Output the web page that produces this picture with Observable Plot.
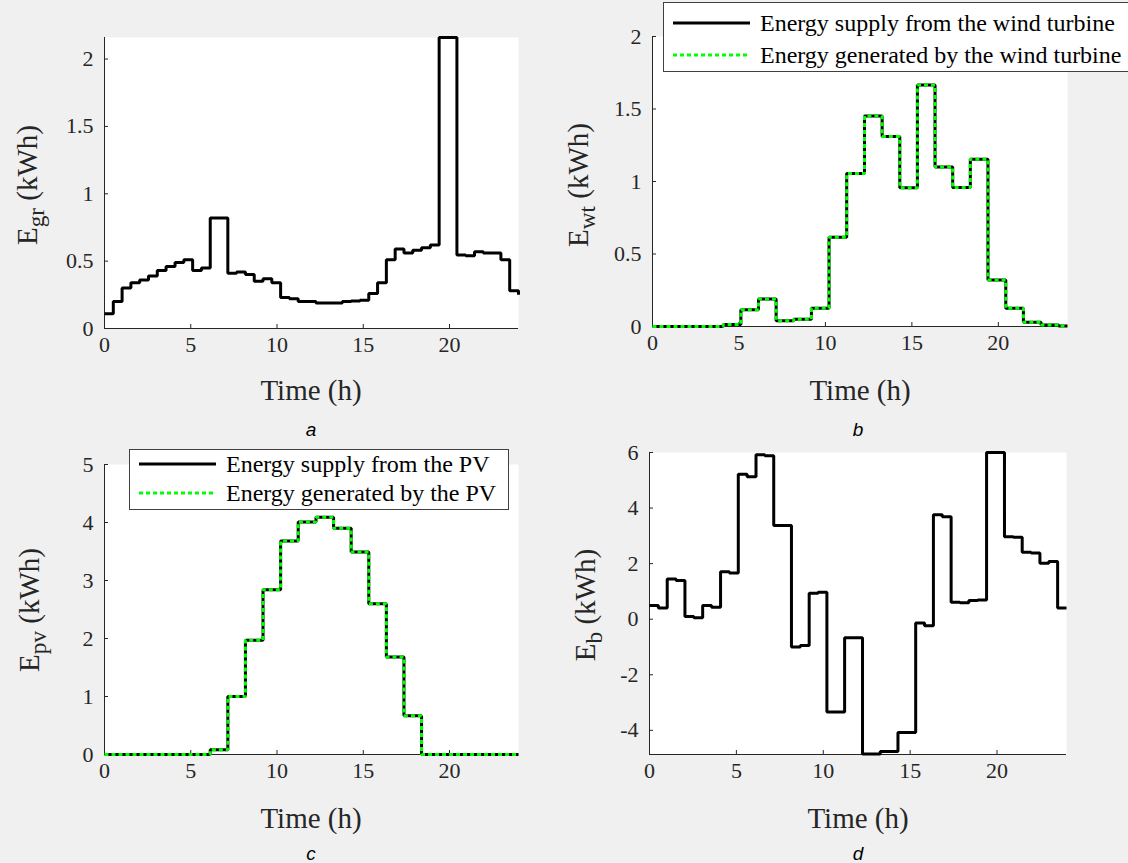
<!DOCTYPE html>
<html><head><meta charset="utf-8">
<script src="https://cdn.jsdelivr.net/npm/d3@7"></script>
<script src="https://cdn.jsdelivr.net/npm/@observablehq/plot@0.6"></script>
<style>
html,body{margin:0;padding:0;background:#f0f0f0;}
#fig{position:relative;width:1128px;height:863px;overflow:hidden;background:#f0f0f0;font-family:"Liberation Serif","Times New Roman",serif;color:#262626;}
#fig svg text{font-family:"Liberation Serif","Times New Roman",serif !important;}
.xlab{position:absolute;font-size:29px;transform:translate(-50%,-50%);white-space:nowrap;line-height:1;}
.ylab{position:absolute;font-size:29px;transform:translate(-50%,-50%) rotate(-90deg);white-space:nowrap;line-height:1;}
.ylab sub{font-size:0.8em;vertical-align:-0.32em;line-height:0;}
.letter{position:absolute;font-family:"Liberation Sans",Arial,sans-serif;font-style:italic;font-size:19px;transform:translate(-50%,-50%);color:#000;line-height:1;}
.legend{position:absolute;background:#fff;border:1px solid #404040;box-sizing:border-box;}
.legend svg{position:absolute;left:0;top:0;}
</style></head><body><div id="fig"></div>
<script>
// ---- data (48 half-hour samples over 0..24 h) ----
const hours = [0, 0.51, 1.02, 1.53, 2.04, 2.55, 3.06, 3.57, 4.09, 4.6, 5.11, 5.62, 6.13, 6.64, 7.15, 7.66,
  8.17, 8.68, 9.19, 9.7, 10.21, 10.72, 11.23, 11.74, 12.26, 12.77, 13.28, 13.79, 14.3, 14.81, 15.32, 15.83,
  16.34, 16.85, 17.36, 17.87, 18.38, 18.89, 19.4, 19.91, 20.43, 20.94, 21.45, 21.96, 22.47, 22.98, 23.49, 24];
const xTicks = [0, 5, 10, 15, 20];

// a: energy from grid (kWh), half-hourly
const gridEnergy = [0.11, 0.2, 0.3, 0.34, 0.36, 0.39, 0.43, 0.46, 0.49, 0.51, 0.43, 0.45, 0.82, 0.82, 0.41, 0.42,
  0.4, 0.35, 0.37, 0.34, 0.23, 0.22, 0.2, 0.2, 0.19, 0.19, 0.19, 0.2, 0.205, 0.21, 0.26, 0.34,
  0.51, 0.59, 0.56, 0.58, 0.6, 0.62, 2.16, 2.16, 0.545, 0.54, 0.57, 0.56, 0.56, 0.51, 0.28, 0.25];
const yTicksA = [0, 0.5, 1, 1.5, 2];

// b: wind turbine (kWh), hourly
const windSupply = [0, 0, 0, 0, 0.013, 0.115, 0.19, 0.04, 0.05, 0.126, 0.615, 1.055, 1.452, 1.31, 0.957, 1.665,
  1.1, 0.959, 1.154, 0.321, 0.126, 0.03, 0.01, 0.003];
const windGenerated = [0, 0, 0, 0, 0.013, 0.115, 0.19, 0.04, 0.05, 0.126, 0.615, 1.055, 1.452, 1.31, 0.957, 1.665,
  1.1, 0.959, 1.154, 0.321, 0.126, 0.03, 0.01, 0.003];
const yTicksB = [0, 0.5, 1, 1.5, 2];
const legendWind = ["Energy supply from the wind turbine", "Energy generated by the wind turbine"];

// c: PV (kWh), hourly
const pvSupply = [0, 0, 0, 0, 0, 0, 0.08, 1.0, 1.97, 2.84, 3.68, 4.01, 4.09, 3.9, 3.49, 2.6,
  1.68, 0.67, 0, 0, 0, 0, 0, 0];
const pvGenerated = [0, 0, 0, 0, 0, 0, 0.08, 1.0, 1.97, 2.84, 3.68, 4.01, 4.09, 3.9, 3.49, 2.6,
  1.68, 0.67, 0, 0, 0, 0, 0, 0];
const yTicksC = [0, 1, 2, 3, 4, 5];
const legendPV = ["Energy supply from the PV", "Energy generated by the PV"];

// d: battery (kWh), half-hourly
const batteryEnergy = [0.49, 0.4, 1.45, 1.39, 0.1, 0.05, 0.49, 0.43, 1.71, 1.66, 5.22, 5.13, 5.92, 5.88, 3.37, 3.37,
  -1.0, -0.95, 0.93, 0.97, -3.34, -3.34, -0.67, -0.67, -4.85, -4.85, -4.76, -4.76, -4.08, -4.08, -0.14, -0.24,
  3.76, 3.69, 0.61, 0.59, 0.67, 0.69, 6.0, 6.0, 2.97, 2.95, 2.41, 2.38, 2.01, 2.08, 0.4, 0.4];
const yTicksD = [-4, -2, 0, 2, 4, 6];

const xLabel = "Time (h)";
const panelLetters = ["a", "b", "c", "d"];

// ---- helpers ----
const fig = document.getElementById("fig");
const halfHourly = v => hours.map((t, i) => ({t, v: v[i]}));
const fromHourly = v => hours.map((t, i) => ({t, v: v[Math.floor(i / 2)]}));
const AX = "#262626";

function panel({box, yDomain, yTicks, black, green}) {
  const [l, r, t, b] = box;
  const mL = 70, mR = 12, mT = 12, mB = 45;
  const w = r - l, h = b - t;
  const lineOpts = {x: "t", y: "v", curve: "step-after", strokeWidth: 3, strokeLinejoin: "miter", strokeLinecap: "butt"};
  const marks = [
    Plot.frame({fill: "white", stroke: "none"}),
    Plot.ruleX([0], {stroke: AX, strokeWidth: 1}),
    Plot.ruleY([yDomain[0]], {stroke: AX, strokeWidth: 1}),
    Plot.tickX(xTicks, {x: d => d, stroke: AX, insetTop: h - 4}),
    Plot.tickY(yTicks, {y: d => d, stroke: AX, insetRight: w - 4}),
    Plot.axisX(xTicks, {tickSize: 0, tickPadding: 8, tickFormat: d => String(d), label: null, fontSize: 22}),
    Plot.axisY(yTicks, {tickSize: 0, tickPadding: 11, tickFormat: d => String(d), label: null, fontSize: 22}),
    Plot.line(black, {...lineOpts, stroke: "black"})
  ];
  if (green) marks.push(Plot.line(green, {...lineOpts, stroke: "#00ff00", strokeDasharray: "4,3"}));
  const svg = Plot.plot({
    width: w + mL + mR, height: h + mT + mB,
    marginLeft: mL, marginRight: mR, marginTop: mT, marginBottom: mB,
    x: {domain: [0, 24], label: null},
    y: {domain: yDomain, label: null},
    style: {background: "transparent", fontSize: "22px", color: AX, overflow: "visible"},
    marks
  });
  svg.style.position = "absolute";
  svg.style.left = (l - mL) + "px";
  svg.style.top = (t - mT) + "px";
  svg.style.maxWidth = "none";
  svg.style.fontFamily = "'Liberation Serif','Times New Roman',serif";
  fig.appendChild(svg);
}

function addDiv(cls, html, x, y) {
  const d = document.createElement("div");
  d.className = cls; d.innerHTML = html;
  d.style.left = x + "px"; d.style.top = y + "px";
  fig.appendChild(d);
}

function legend(items, left, top, width, height, rows) {
  const d = document.createElement("div");
  d.className = "legend";
  Object.assign(d.style, {left: left + "px", top: top + "px", width: width + "px", height: height + "px"});
  const svg = d3.create("svg").attr("width", width).attr("height", height);
  items.forEach((txt, i) => {
    const y = rows[i];
    const ln = svg.append("line").attr("x1", 9).attr("x2", 86).attr("y1", y).attr("y2", y).attr("stroke-width", 3);
    if (i === 0) ln.attr("stroke", "black");
    else ln.attr("stroke", "#00ff00").attr("stroke-dasharray", "4,3");
    svg.append("text").attr("x", 96).attr("y", y).attr("dy", "0.35em")
      .attr("font-size", 24).attr("fill", "#000").text(txt);
  });
  d.appendChild(svg.node());
  fig.appendChild(d);
}

// ---- panels ----
panel({box: [104, 518, 37, 328], yDomain: [0, 2.16], yTicks: yTicksA, black: halfHourly(gridEnergy)});
panel({box: [652, 1067, 36, 326], yDomain: [0, 2], yTicks: yTicksB, black: fromHourly(windSupply), green: fromHourly(windGenerated)});
panel({box: [104, 518, 464, 754], yDomain: [0, 5], yTicks: yTicksC, black: fromHourly(pvSupply), green: fromHourly(pvGenerated)});
panel({box: [649, 1066, 452, 754], yDomain: [-4.87, 6], yTicks: yTicksD, black: halfHourly(batteryEnergy)});

// axis labels
addDiv("xlab", xLabel, 311, 390);
addDiv("xlab", xLabel, 860, 390);
addDiv("xlab", xLabel, 311, 818);
addDiv("xlab", xLabel, 858, 818);
addDiv("ylab", "E<sub>gr</sub> (kWh)", 27, 185);
addDiv("ylab", "E<sub>wt</sub> (kWh)", 578, 185);
addDiv("ylab", "E<sub>pv</sub> (kWh)", 29, 610);
addDiv("ylab", "E<sub>b</sub> (kWh)", 585, 605);

// panel letters
addDiv("letter", panelLetters[0], 311, 429);
addDiv("letter", panelLetters[1], 858, 429);
addDiv("letter", panelLetters[2], 311, 853);
addDiv("letter", panelLetters[3], 858, 853);

// legends
legend(legendWind, 663, 2, 480, 70, [20, 52]);
legend(legendPV, 129, 449, 380, 61, [14, 43]);
</script></body></html>
